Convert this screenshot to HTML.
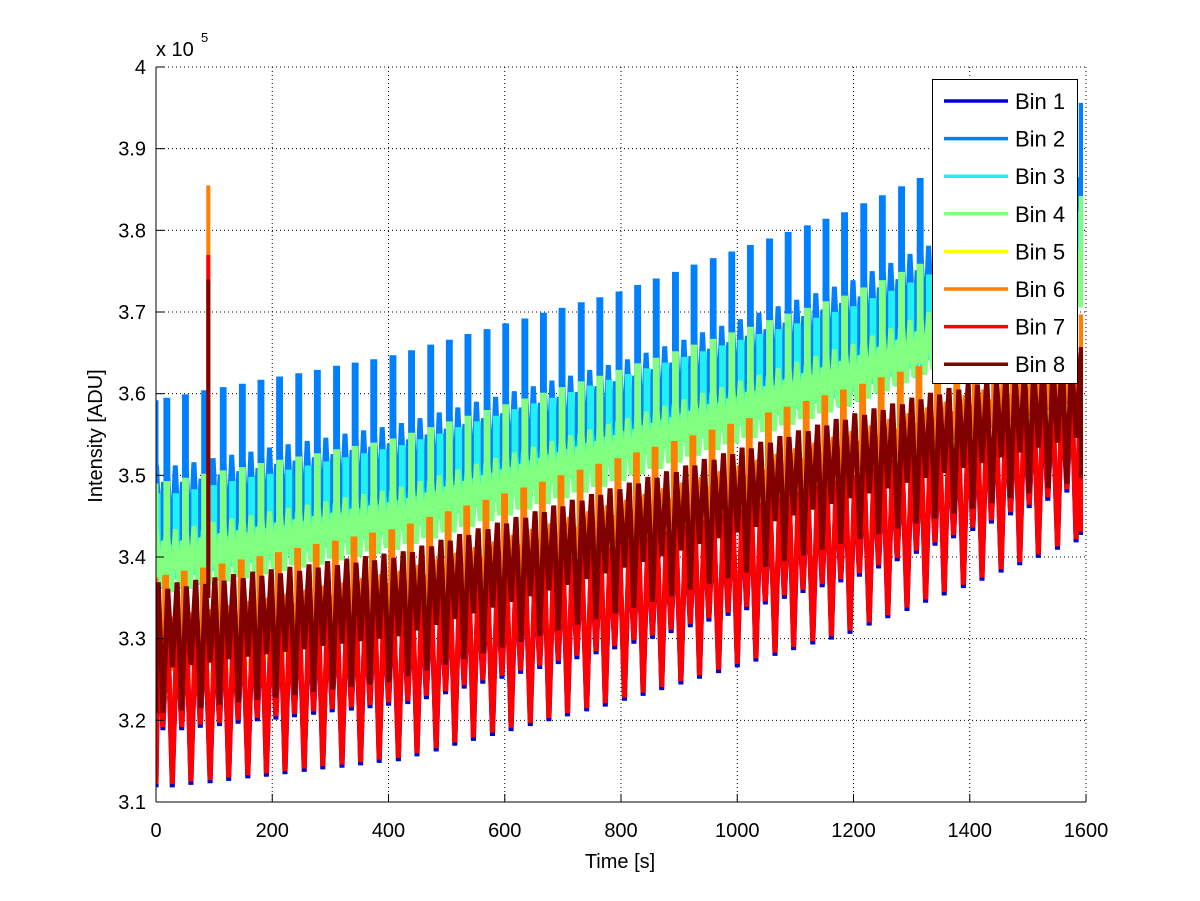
<!DOCTYPE html>
<html><head><meta charset="utf-8"><style>
html,body{margin:0;padding:0;background:#fff;}
svg{display:block;font-family:"Liberation Sans",Arial,sans-serif;}
</style></head><body>
<svg id="chart" width="1200" height="901" viewBox="0 0 1200 901">
<rect x="0" y="0" width="1200" height="901" fill="#fff"/>
<g id="grid"></g>
<defs><clipPath id="plotclip"><rect x="156" y="67" width="927" height="735"/></clipPath></defs>
<g id="series" clip-path="url(#plotclip)"></g>
<g id="axes"></g>
<g id="legend"></g>
</svg>
<script>
// ---- chart data (values in thousands of ADU) ----
const xTicks = [0,200,400,600,800,1000,1200,1400,1600];
const yTicks = [3.1,3.2,3.3,3.4,3.5,3.6,3.7,3.8,3.9,4];
const yTickLabels = ["3.1","3.2","3.3","3.4","3.5","3.6","3.7","3.8","3.9","4"];
const binNames = ["Bin 1","Bin 2","Bin 3","Bin 4","Bin 5","Bin 6","Bin 7","Bin 8"];
const cycleTimes = [0,32,65,97,130,162,194,227,259,292,324,356,389,421,454,486,518,551,583,616,648,680,713,745,778,810,842,875,907,940,972,1004,1037,1069,1102,1134,1166,1199,1231,1264,1296,1328,1361,1393,1426,1458,1490,1523,1555,1588];
const binOffsets = [28,17,33,17,12,15,28,12];
const binAmps = [20,20,12,14,6,12,20,16];
const bin1Peaks = [331.8,332.1,332.3,332.6,332.9,333.1,333.4,333.7,334.0,334.2,334.5,334.8,335.0,335.6,336.2,336.9,337.5,338.1,338.7,339.3,339.9,340.5,341.1,341.7,342.4,343.0,343.7,344.4,345.1,345.8,346.5,347.2,347.9,348.6,349.3,349.9,350.6,351.6,352.5,353.4,354.4,355.3,356.2,357.1,358.1,359.0,359.9,360.9,361.8,362.7];
const bin2Peaks = [359.2,359.6,360.1,360.5,360.9,361.4,361.8,362.2,362.6,363.1,363.5,363.9,364.4,365.0,365.7,366.3,367.0,367.6,368.3,368.9,369.6,370.2,370.9,371.5,372.2,373.0,373.8,374.6,375.5,376.3,377.1,377.9,378.7,379.5,380.3,381.1,381.9,383.0,384.0,385.1,386.1,387.2,388.2,389.3,390.3,391.4,392.4,393.5,394.5,395.6];
const bin3Peaks = [347.5,348.0,348.5,349.0,349.5,349.9,350.4,350.9,351.4,351.9,352.4,352.9,353.4,354.1,354.8,355.6,356.3,357.0,357.8,358.5,359.2,359.9,360.7,361.4,362.1,362.8,363.5,364.2,364.9,365.6,366.3,367.0,367.6,368.3,369.0,369.7,370.4,371.4,372.3,373.3,374.3,375.3,376.2,377.2,378.2,379.1,380.1,381.1,382.0,383.0];
const bin4Peaks = [349.0,349.4,349.9,350.3,350.7,351.2,351.6,352.0,352.4,352.9,353.3,353.7,354.2,354.9,355.6,356.3,357.0,357.7,358.4,359.1,359.8,360.5,361.2,361.9,362.6,363.4,364.1,364.9,365.7,366.4,367.2,367.9,368.7,369.5,370.2,371.0,371.7,372.7,373.6,374.6,375.6,376.5,377.5,378.4,379.4,380.3,381.3,382.3,383.2,384.2];
const bin5Peaks = [328.5,329.2,329.9,330.5,331.2,331.9,332.6,333.3,333.9,334.6,335.3,336.0,336.7,337.3,338.0,338.7,339.4,340.1,340.7,341.4,342.1,342.8,343.5,344.1,344.8,345.5,346.2,346.9,347.5,348.2,348.9,349.6,350.2,350.8,351.3,351.9,352.5,353.1,353.7,354.2,354.8,355.4,356.0,356.6,357.1,357.7,358.3,358.9,359.5,360.0];
const bin6Peaks = [337.5,338.0,338.4,338.9,339.4,339.8,340.3,340.8,341.3,341.7,342.2,342.7,343.1,343.8,344.6,345.3,346.0,346.7,347.5,348.2,348.9,349.7,350.4,351.1,351.8,352.5,353.2,353.9,354.6,355.3,356.0,356.7,357.4,358.1,358.8,359.5,360.2,360.9,361.7,362.4,363.1,363.8,364.6,365.3,366.0,366.8,367.5,368.2,368.9,369.7];
const bin7Peaks = [332.2,332.5,332.7,333.0,333.3,333.5,333.8,334.1,334.4,334.6,334.9,335.2,335.4,336.0,336.6,337.3,337.9,338.5,339.1,339.7,340.3,340.9,341.5,342.1,342.8,343.4,344.1,344.8,345.5,346.2,346.9,347.6,348.3,349.0,349.7,350.3,351.0,352.0,352.9,353.8,354.8,355.7,356.6,357.5,358.5,359.4,360.3,361.3,362.2,363.1];
const bin8Peaks = [336.9,337.2,337.5,337.9,338.2,338.5,338.8,339.1,339.5,339.8,340.1,340.4,340.7,341.4,342.1,342.8,343.5,344.2,344.9,345.6,346.3,347.0,347.7,348.4,349.1,349.8,350.5,351.2,352.0,352.7,353.4,354.1,354.8,355.5,356.2,356.9,357.6,358.2,358.8,359.5,360.1,360.7,361.3,361.9,362.6,363.2,363.8,364.4,365.0,365.7];
const spikeTime = 90;
const spikeBins = [5,6,7];
const spikeValues = [385.5,377.0,374.0];
const binColors = ["#0000d0","#0080ff","#20f0f0","#80ff80","#ffff00","#ff8000","#ff0000","#800000"];

const NS = "http://www.w3.org/2000/svg";
const X0=156, X1=1086, Y0=802, Y1=67, TMAX=1592;
function xs(t){return X0+(t/1600)*(X1-X0);}
function ys(v){return Y0-(v-3.1)/(4.0-3.1)*(Y0-Y1);}
function yk(k){return ys(k/100);}
function mk(tag,attrs,parent){const e=document.createElementNS(NS,tag);for(const k in attrs)e.setAttribute(k,attrs[k]);parent.appendChild(e);return e;}

const grid=document.getElementById('grid');
xTicks.slice(1,-1).forEach(t=>{
  const l=mk('line',{x1:xs(t),x2:xs(t),y1:Y1,y2:Y0,stroke:'#000','stroke-width':1,'stroke-dasharray':'1,3'},grid);
  
  
});
yTicks.slice(1,-1).forEach(v=>{
  const l=mk('line',{x1:X0,x2:X1,y1:ys(v),y2:ys(v),stroke:'#000','stroke-width':1,'stroke-dasharray':'1,3'},grid);
  
  
});
const tb=mk('line',{x1:X0,x2:X1,y1:Y1,y2:Y1,stroke:'#000','stroke-width':1,'stroke-dasharray':'1,3'},grid);


const rb=mk('line',{x1:X1,x2:X1,y1:Y1,y2:Y0,stroke:'#000','stroke-width':1,'stroke-dasharray':'1,3'},grid);



// waveform shapes (style only): [phase fraction, level fraction of amplitude]
const barShape = [[0,0.15],[0,1],[0.1,1],[0.1,0.55],[0.3,0.05],[0.5,0.6],[0.7,0.1],[0.88,0.5]];
const yellowShape = [[0,0],[0,1],[0.04,1],[0.04,0],[0.5,0.3]];
const zigShape = [[0,0],[0.25,0.95],[0.5,0.35],[0.75,1]];

const allPeaks=[bin1Peaks,bin2Peaks,bin3Peaks,bin4Peaks,bin5Peaks,bin6Peaks,bin7Peaks,bin8Peaks];
const barBins=[1,2,3,5];
const series=document.getElementById('series');
allPeaks.forEach((peaks,b)=>{
  const off=binOffsets[b], amp=binAmps[b], P=32.4;
  let pts=[];
  const shape = b===4 ? yellowShape : (barBins.includes(b) ? barShape : zigShape);
  for(let i=-1;i<peaks.length;i++){
    const idx=Math.max(0,i);
    const t0=(i<0?cycleTimes[0]-P:cycleTimes[i])+off;
    const pk=peaks[idx], lo=pk-amp;
    shape.forEach(s=>pts.push([t0+s[0]*P,lo+s[1]*amp]));
  }
  pts=pts.filter(p=>p[0]>=-P&&p[0]<=TMAX+P);
  const d=pts.map((p,i)=>(i?'L':'M')+xs(Math.min(Math.max(p[0],0),TMAX)).toFixed(1)+' '+yk(p[1]).toFixed(1)).join(' ');
  const path=mk('path',{d:d,fill:'none',stroke:binColors[b],'stroke-width':(b===4?1.6:5),'stroke-linejoin':'miter','stroke-miterlimit':2},series);
  
  
  const si=spikeBins.indexOf(b);
  if(si>=0){
    const s=mk('line',{x1:xs(spikeTime),x2:xs(spikeTime),y1:yk(335),y2:yk(spikeValues[si]),stroke:binColors[b],'stroke-width':4},series);
    
    
  }
});

const axes=document.getElementById('axes');
const la=mk('line',{x1:X0,x2:X0,y1:Y1,y2:Y0,stroke:'#000','stroke-width':1},axes);


const ba=mk('line',{x1:X0,x2:X1,y1:Y0,y2:Y0,stroke:'#000','stroke-width':1},axes);


xTicks.forEach(t=>{
  const tk=mk('line',{x1:xs(t),x2:xs(t),y1:Y0,y2:Y0-8,stroke:'#000','stroke-width':1},axes);
  
  
  const tx=mk('text',{x:xs(t),y:Y0+35,'text-anchor':'middle','font-size':20,fill:'#000'},axes);
  tx.textContent=String(t);
  
  
});
yTicks.forEach((v,i)=>{
  const tk=mk('line',{x1:X0,x2:X0+8,y1:ys(v),y2:ys(v),stroke:'#000','stroke-width':1},axes);
  
  
  const tx=mk('text',{x:X0-10,y:ys(v)+7,'text-anchor':'end','font-size':20,fill:'#000'},axes);
  tx.textContent=yTickLabels[i];
  
  
});

const ex=mk('text',{x:156,y:56,'font-size':20,fill:'#000'},axes);
ex.textContent='x 10';


const ex2=mk('text',{x:201,y:42,'font-size':13,fill:'#000'},axes);
ex2.textContent='5';


const yt=mk('text',{x:0,y:0,'font-size':20,fill:'#000','text-anchor':'middle',transform:'translate(102,436) rotate(-90)'},axes);
yt.textContent='Intensity [ADU]';


const xt=mk('text',{x:620,y:868,'font-size':20,fill:'#000','text-anchor':'middle'},axes);
xt.textContent='Time [s]';



const lg=document.getElementById('legend');
const box=mk('rect',{x:932.5,y:79.5,width:145,height:304,fill:'#fff',stroke:'#000','stroke-width':1},lg);


binNames.forEach((n,i)=>{
  const y=101+i*37.6;
  const g=mk('g',{},lg);
  
  
  const l=mk('line',{x1:944,x2:1008,y1:y,y2:y,stroke:binColors[i],'stroke-width':3.5},g);
  
  
  const t=mk('text',{x:1015,y:y+8,'font-size':22,fill:'#000'},g);
  t.textContent=n;
  
  
});
</script>
</body></html>
